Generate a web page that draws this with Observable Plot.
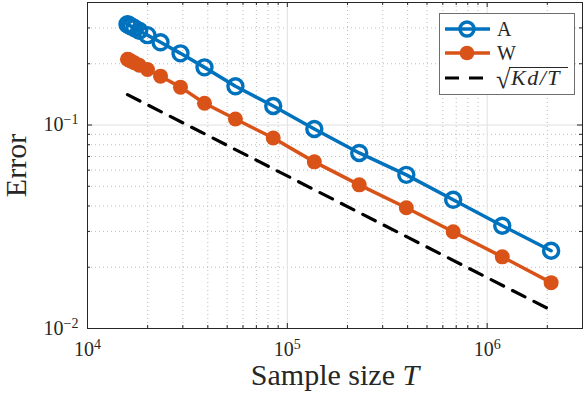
<!DOCTYPE html>
<html><head><meta charset="utf-8">
<script src="https://cdn.jsdelivr.net/npm/d3@7"></script>
<script src="https://cdn.jsdelivr.net/npm/@observablehq/plot@0.6"></script>
<style>html,body{margin:0;padding:0;background:#fff} svg{display:block}</style>
</head><body><div id="chart"></div>
<script>
// Sample sizes T
const T = [15850, 15980, 16200, 16550, 17150, 18150, 19950, 23200, 29200, 38500, 55000, 85000, 136500, 229000, 394000, 676000, 1190000, 2090000];
// Errors, series A (open circles)
const errA = [0.3126, 0.311, 0.309, 0.3053, 0.2995, 0.2905, 0.2765, 0.255, 0.225, 0.192, 0.155, 0.124, 0.0956, 0.0729, 0.0569, 0.0429, 0.0320, 0.0241];
// Errors, series W (filled markers)
const errW = [0.2106, 0.2097, 0.2083, 0.2059, 0.2022, 0.1966, 0.1875, 0.1738, 0.1535, 0.128, 0.107, 0.0863, 0.0659, 0.0508, 0.0392, 0.0299, 0.0225, 0.0168];
// Reference line sqrt(Kd/T)
const refT = [15850, 2090000];
const refErr = [0.141, 0.0123];
// Ticks
const xMajor = [1e4, 1e5, 1e6];
const xMinor = [2e4,3e4,4e4,5e4,6e4,7e4,8e4,9e4,2e5,3e5,4e5,5e5,6e5,7e5,8e5,9e5,2e6,3e6];
const yMajor = [0.01, 0.1];
const yMinor = [0.02,0.03,0.04,0.05,0.06,0.07,0.08,0.09,0.2,0.3,0.4];
const xTickLabels = ["10^4", "10^5", "10^6"];
const yTickLabels = ["10^\u22122", "10^\u22121"];
const seriesNames = ["A", "W"];
const refName = "Kd/T";
const xLabel = "Sample size ";
const xLabelVar = "T";
const yLabel = "Error";

const colA = "#0072BD", colW = "#D95319", axisCol = "#262626";
const dataA = T.map((t, i) => ({T: t, e: errA[i]}));
const dataW = T.map((t, i) => ({T: t, e: errW[i]}));
const dataRef = refT.map((t, i) => ({T: t, e: refErr[i]}));

const svg = Plot.plot({
  width: 586, height: 396,
  marginLeft: 87, marginRight: 4, marginTop: 2, marginBottom: 68,
  x: {type: "log", domain: [1e4, 3e6], axis: null},
  y: {type: "log", domain: [0.01, 0.4], axis: null},
  style: {fontFamily: "'Liberation Serif', serif", background: "#fff", color: axisCol},
  marks: [
    Plot.ruleX(xMinor, {x: d => d, stroke: "#bdbdbd", strokeDasharray: "1,3"}),
    Plot.ruleY(yMinor, {y: d => d, stroke: "#bdbdbd", strokeDasharray: "1,3"}),
    Plot.ruleX(xMajor, {x: d => d, stroke: "#e0e0e0"}),
    Plot.ruleY(yMajor, {y: d => d, stroke: "#e0e0e0"}),
    // inward ticks on all sides
    Plot.tickX(xMajor, {x: d => d, insetTop: 321, stroke: axisCol}),
    Plot.tickX(xMajor, {x: d => d, insetBottom: 321, stroke: axisCol}),
    Plot.tickX(xMinor, {x: d => d, insetTop: 323, stroke: axisCol}),
    Plot.tickX(xMinor, {x: d => d, insetBottom: 323, stroke: axisCol}),
    Plot.tickY(yMajor, {y: d => d, insetRight: 490, stroke: axisCol}),
    Plot.tickY(yMajor, {y: d => d, insetLeft: 490, stroke: axisCol}),
    Plot.tickY(yMinor, {y: d => d, insetRight: 492, stroke: axisCol}),
    Plot.tickY(yMinor, {y: d => d, insetLeft: 492, stroke: axisCol}),
    Plot.frame({stroke: axisCol}),
    // tick labels
    Plot.text(xMajor, {x: d => d, frameAnchor: "bottom", text: (d, i) => xTickLabels[i], textAnchor: "middle", lineAnchor: "top", dy: 13, fontSize: 20, fill: axisCol}),
    Plot.text(yMajor, {y: d => d, frameAnchor: "left", text: (d, i) => yTickLabels[i], textAnchor: "end", lineAnchor: "middle", dx: -9, fontSize: 20, fill: axisCol}),
    // axis labels
    Plot.text([xLabel + xLabelVar], {frameAnchor: "bottom", textAnchor: "middle", lineAnchor: "bottom", dy: 56, fontSize: 30, fill: axisCol}),
    Plot.text([yLabel], {frameAnchor: "left", textAnchor: "middle", rotate: -90, lineAnchor: "bottom", dx: -62, fontSize: 30, fill: axisCol}),
    // data
    Plot.line(dataA, {x: "T", y: "e", stroke: colA, strokeWidth: 3.5}),
    Plot.dot(dataA, {x: "T", y: "e", r: 7.5, stroke: colA, strokeWidth: 3.4, fill: "none"}),
    Plot.line(dataW, {x: "T", y: "e", stroke: colW, strokeWidth: 3.5}),
    Plot.dot(dataW, {x: "T", y: "e", r: 7.5, fill: colW, stroke: "none"}),
    Plot.line(dataRef, {x: "T", y: "e", stroke: "#000", strokeWidth: 3.2, strokeDasharray: "14,10"})
  ]
});

// superscripts in tick labels, italic variable in x label
d3.select(svg).selectAll("text").each(function () {
  const s = this.textContent;
  const t = d3.select(this);
  if (s.includes("^")) {
    const [b, e] = s.split("^");
    t.text(null);
    t.append("tspan").text(b);
    t.append("tspan").attr("dy", -7).attr("font-size", 14).text(e);
  } else if (s === xLabel + xLabelVar) {
    t.text(null);
    t.append("tspan").text(xLabel);
    t.append("tspan").attr("font-style", "italic").text(xLabelVar);
  }
});

// legend
const lg = d3.select(svg).append("g")
  .attr("font-family", "'Liberation Serif', serif")
  .attr("text-anchor", "start")
  .attr("fill", axisCol);
lg.append("rect").attr("x", 439.5).attr("y", 13.5).attr("width", 135).attr("height", 81)
  .attr("fill", "#fff").attr("stroke", "#6e6e6e");
const rows = [29, 53, 78];
lg.append("line").attr("x1", 445).attr("x2", 490).attr("y1", rows[0]).attr("y2", rows[0]).attr("stroke", colA).attr("stroke-width", 3.5);
lg.append("circle").attr("cx", 467).attr("cy", rows[0]).attr("r", 7).attr("fill", "none").attr("stroke", colA).attr("stroke-width", 3.4);
lg.append("line").attr("x1", 445).attr("x2", 490).attr("y1", rows[1]).attr("y2", rows[1]).attr("stroke", colW).attr("stroke-width", 3.5);
lg.append("circle").attr("cx", 467).attr("cy", rows[1]).attr("r", 7.3).attr("fill", colW);
lg.append("line").attr("x1", 445).attr("x2", 490).attr("y1", rows[2]).attr("y2", rows[2]).attr("stroke", "#000").attr("stroke-width", 3.2).attr("stroke-dasharray", "14,10");
lg.append("text").attr("x", 497).attr("y", 36).attr("font-size", 20).text(seriesNames[0]);
lg.append("text").attr("x", 497).attr("y", 60).attr("font-size", 20).text(seriesNames[1]);
lg.append("text").attr("x", 496).attr("y", 88).attr("font-size", 26).text("\u221A");
lg.append("text").attr("x", 511).attr("y", 85).attr("font-size", 22).attr("letter-spacing", 1.5).attr("font-style", "italic").text(refName);
lg.append("line").attr("x1", 509).attr("x2", 568).attr("y1", 67.5).attr("y2", 67.5).attr("stroke", axisCol).attr("stroke-width", 1.2);

document.getElementById("chart").appendChild(svg);
</script>
</body></html>
